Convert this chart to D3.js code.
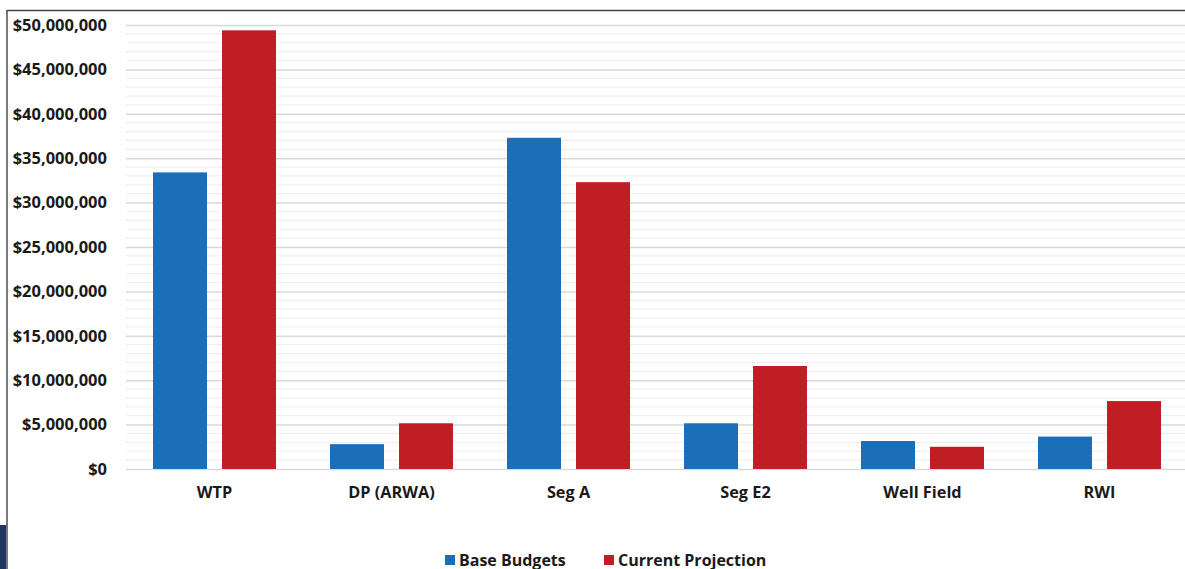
<!DOCTYPE html>
<html>
<head>
<meta charset="utf-8">
<script src="https://cdn.jsdelivr.net/npm/d3@7"></script>
<style>
  body { margin: 0; background: #fff; }
  svg text { font-family: "Open Sans", "Liberation Sans", sans-serif; font-weight: bold; fill: #1a1a1a; }
</style>
</head>
<body>
<div id="chart"></div>
<script>
"use strict"

// data
var categories = ['WTP', 'DP (ARWA)', 'Seg A', 'Seg E2', 'Well Field', 'RWI'];
var seriesNames = ['Base Budgets', 'Current Projection'];
var baseBudgets = [33.4e6, 2.8e6, 37.3e6, 5.15e6, 3.15e6, 3.65e6];
var currentProjection = [49.4e6, 5.15e6, 32.3e6, 11.6e6, 2.5e6, 7.65e6];
var yTicks = [0, 5e6, 10e6, 15e6, 20e6, 25e6, 30e6, 35e6, 40e6, 45e6, 50e6];
var colors = {'Base Budgets': '#1a6fb8', 'Current Projection': '#be1e24'};

var W = 1185, H = 569;
var margin = {top: 25, left: 126, bottom: 100};
var plotRight = 1188;
var y0 = H - margin.bottom;

var svg = d3.select("#chart")
    .append("svg")
    .attr("width", W)
    .attr("height", H);

// frame
svg.append("rect").attr("x", 0).attr("y", 525).attr("width", 6).attr("height", 44).attr("fill", "#1f3560");
svg.append("line").attr("x1", 7).attr("x2", 7).attr("y1", 10).attr("y2", H)
    .attr("stroke", "#7a7a7a").attr("stroke-width", 2);
svg.append("line").attr("x1", 7).attr("x2", W).attr("y1", 10.5).attr("y2", 10.5)
    .attr("stroke", "#444").attr("stroke-width", 1.5);

var y = d3.scaleLinear()
    .domain([0, 50e6])
    .range([y0, margin.top]);

var x0 = d3.scaleBand()
    .domain(categories)
    .range([margin.left, plotRight]);

var x1 = d3.scaleBand()
    .domain(seriesNames)
    .range([27, 150])
    .paddingInner(15 / 69);

// minor gridlines every 1M
var minor = d3.range(1e6, 50e6, 1e6).filter(function(v) { return v % 5e6 != 0; });
svg.append("g").selectAll("line")
    .data(minor)
    .enter()
    .append("line")
    .attr("x1", margin.left).attr("x2", plotRight)
    .attr("y1", function(d) { return y(d); })
    .attr("y2", function(d) { return y(d); })
    .attr("stroke", "#efefef").attr("stroke-width", 1.2);

// y axis with major gridlines
var yAxis = svg.append("g")
    .attr("transform", "translate(" + margin.left + ",0)")
    .call(d3.axisLeft(y)
        .tickValues(yTicks)
        .tickSize(-(plotRight - margin.left))
        .tickPadding(19)
        .tickFormat(function(d) { return "$" + d3.format(",")(d); }));
yAxis.select(".domain").remove();
yAxis.selectAll(".tick line").attr("stroke", "#d9d9d9").attr("stroke-width", 1.5);
yAxis.selectAll("text").style("font-size", "16.5px");

// bars
var rows = categories.map(function(c, i) {
    return {cat: c, values: [
        {key: 'Base Budgets', value: baseBudgets[i]},
        {key: 'Current Projection', value: currentProjection[i]}
    ]};
});

svg.append("g")
    .selectAll("g")
    .data(rows)
    .enter()
    .append("g")
    .attr("transform", function(d) { return "translate(" + x0(d.cat) + ",0)"; })
    .selectAll("rect")
    .data(function(d) { return d.values; })
    .enter()
    .append("rect")
    .attr("x", function(d) { return x1(d.key); })
    .attr("y", function(d) { return y(d.value); })
    .attr("width", x1.bandwidth())
    .attr("height", function(d) { return y0 - y(d.value); })
    .attr("fill", function(d) { return colors[d.key]; });

// x axis labels
var xAxis = svg.append("g")
    .attr("transform", "translate(0," + y0 + ")")
    .call(d3.axisBottom(x0).tickSize(0).tickPadding(17));
xAxis.select(".domain").remove();
xAxis.selectAll("text").style("font-size", "16.3px");

// legend
var legendX = [445, 604];
var legend = svg.append("g").selectAll("g")
    .data(seriesNames)
    .enter()
    .append("g")
    .attr("transform", function(d, i) { return "translate(" + legendX[i] + ",555)"; });
legend.append("rect")
    .attr("width", 10).attr("height", 10)
    .attr("fill", function(d) { return colors[d]; });
legend.append("text")
    .attr("x", 14).attr("y", 10.5)
    .style("font-size", "16px")
    .text(function(d) { return d; });
</script>
</body>
</html>
